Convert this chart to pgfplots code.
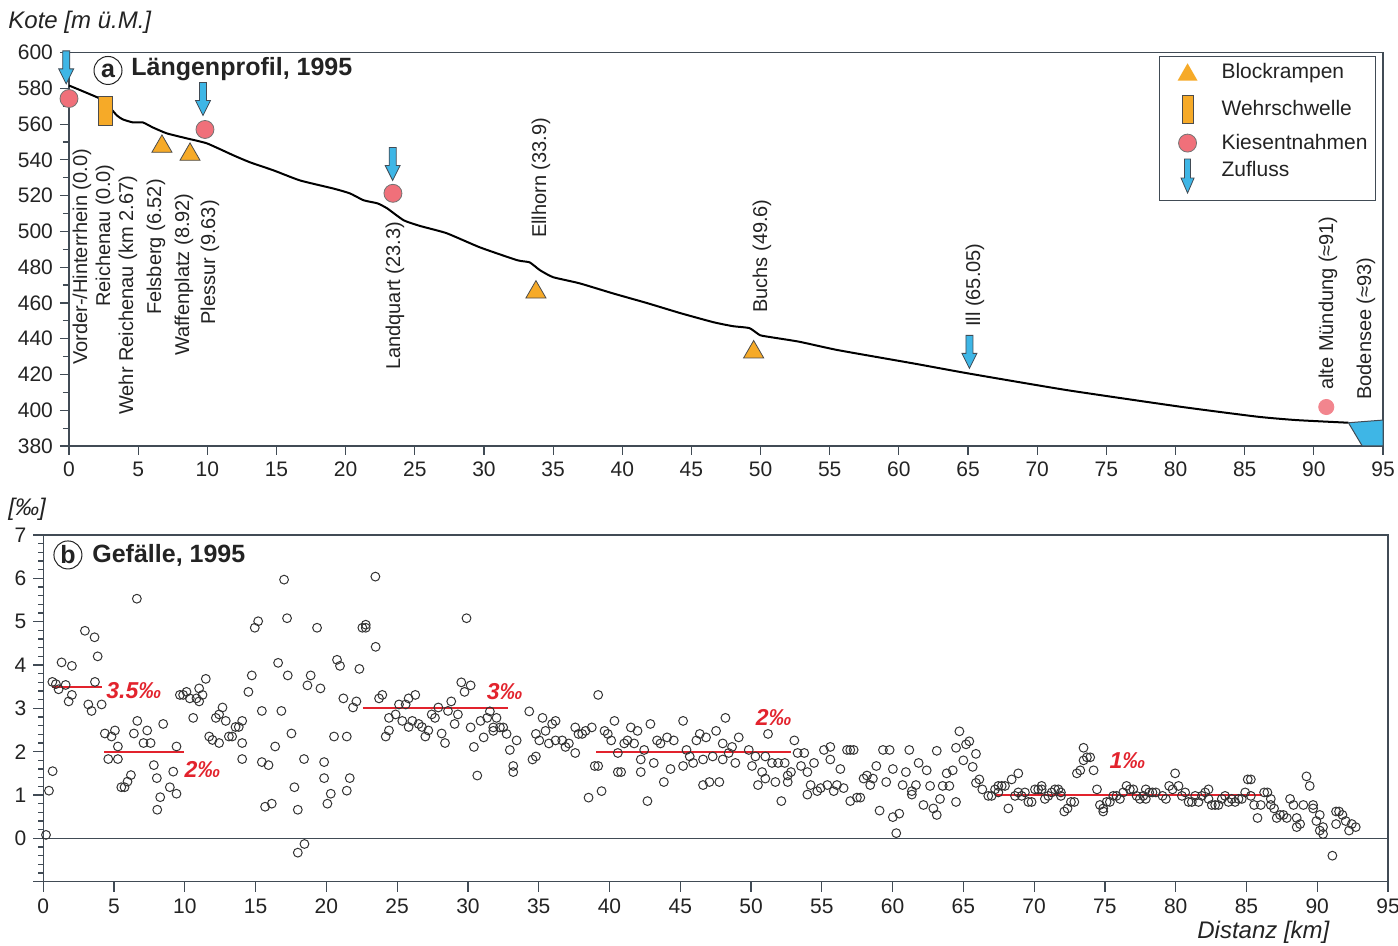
\documentclass[border=0pt]{standalone}
\usepackage{fontspec}
\setmainfont{Liberation Sans}
\usepackage{pgfplots}
\pgfplotsset{compat=1.18}

\definecolor{axisgray}{RGB}{65,75,85}
\definecolor{cOrange}{RGB}{246,170,40}
\definecolor{cPink}{RGB}{240,112,122}
\definecolor{cCyan}{RGB}{62,182,230}
\definecolor{cRed}{RGB}{226,35,45}
\definecolor{txt}{RGB}{35,35,35}

\pgfdeclareplotmark{wehr}{%
  \pgfpathrectangle{\pgfpoint{-3.5pt}{-7.25pt}}{\pgfpoint{7pt}{14.5pt}}%
  \pgfusepathqfillstroke}
\pgfdeclareplotmark{zufluss}{%
  \pgfpathmoveto{\pgfpoint{0pt}{0pt}}%
  \pgfpathlineto{\pgfpoint{3.75pt}{7.5pt}}%
  \pgfpathlineto{\pgfpoint{1.75pt}{7.5pt}}%
  \pgfpathlineto{\pgfpoint{1.75pt}{16.5pt}}%
  \pgfpathlineto{\pgfpoint{-1.75pt}{16.5pt}}%
  \pgfpathlineto{\pgfpoint{-1.75pt}{7.5pt}}%
  \pgfpathlineto{\pgfpoint{-3.75pt}{7.5pt}}%
  \pgfpathclose
  \pgfusepathqfillstroke}

\pgfplotsset{
  myaxis/.style={
    scale only axis, clip=false, enlargelimits=false,
    tick align=outside, xtick pos=bottom, ytick pos=left,
    axis line style={axisgray, line width=0.6pt},
    every tick/.style={axisgray, line width=0.6pt},
    tick label style={font=\fontsize{10.5}{12}\selectfont, text=txt},
    /pgf/number format/assume math mode=true,
    /pgf/number format/1000 sep={},
  },
}
\tikzset{
  rotlab/.style={rotate=90, anchor=west, inner sep=0pt, text=txt, font=\fontsize{10}{12}\selectfont},
  redlab/.style={text=cRed, font=\bfseries\itshape\fontsize{11.5}{13}\selectfont},
}

\begin{document}
\begin{tikzpicture}
\path[use as bounding box] (0,0) rectangle (699pt,473pt);

% ---------------- panel a ----------------
\begin{axis}[myaxis,
  at={(34.5pt,250pt)}, anchor=south west,
  width=657pt, height=196.7pt,
  xmin=0, xmax=95, ymin=380, ymax=600,
  xtick={0,5,...,95}, ytick={380,400,...,600},
  minor ytick={390,410,...,590},
  major tick length=4.5pt, minor tick length=3pt,
  legend cell align=left,
  legend style={at={(1,1)}, anchor=north east, xshift=-3.5pt, yshift=-1.5pt,
    draw=axisgray, line width=0.5pt, fill=white,
    inner xsep=4pt, inner ysep=2.75pt, row sep=0pt, column sep=7pt,
    font=\fontsize{10.5}{12}\selectfont, text=txt,
    nodes={inner sep=0pt, draw=none, fill=none}},
]
\addplot[only marks, mark=triangle*, mark size=5.8pt,
  mark options={fill=cOrange, draw=black!70, line width=0.4pt},
  legend image code/.code={%
    \path[draw=none, fill=none] (0pt,-9.25pt) rectangle (20pt,5.25pt);
    \fill[cOrange, draw=none, overlay] (5pt,-4.3pt) -- (15pt,-4.3pt) -- (10pt,4.4pt) -- cycle;}]
  coordinates {(6.72,547.5) (8.75,543) (33.76,466) (49.5,432.5)};
\addlegendentry{Blockrampen}
\addplot[only marks, mark=wehr,
  mark options={fill=cOrange, draw=black!70, line width=0.4pt},
  legend image code/.code={%
    \path[draw=none, fill=none] (0pt,-8.5pt) rectangle (20pt,9.25pt);
    \filldraw[fill=cOrange, draw=black!70, line width=0.4pt, overlay] (7.25pt,-7pt) rectangle (12.75pt,7pt);}]
  coordinates {(2.6,567.3)};
\addlegendentry{Wehrschwelle}
\addplot[only marks, mark=*, mark size=4.5pt,
  mark options={fill=cPink, draw=black!55, line width=0.4pt},
  legend image code/.code={%
    \path[draw=none, fill=none] (0pt,-6.75pt) rectangle (20pt,8.5pt);
    \filldraw[fill=cPink, draw=black!55, line width=0.4pt, overlay] (10pt,0pt) circle (4.5pt);}]
  coordinates {(0,574.3) (9.83,557) (23.42,521.3)};
\addlegendentry{Kiesentnahmen}
\addplot[only marks, mark=zufluss,
  mark options={fill=cCyan, draw=axisgray, line width=0.4pt},
  legend image code/.code={%
    \path[draw=none, fill=none] (0pt,-12.5pt) rectangle (20pt,6.75pt);
    \filldraw[fill=cCyan, draw=axisgray, line width=0.4pt, overlay]
      (10pt,-11.5pt) -- (13.25pt,-4pt) -- (11.5pt,-4pt) -- (11.5pt,5.5pt) -- (8.5pt,5.5pt) -- (8.5pt,-4pt) -- (6.75pt,-4pt) -- cycle;}]
  coordinates {(-0.2,582.5) (9.69,564.8) (23.4,528.5) (65.1,423.4)};
\addlegendentry{Zufluss}

% profile line
\addplot[forget plot, black, line width=1pt, smooth, tension=0.3] coordinates {
(0,581.6) (2.24,574.3) (2.7,571.5) (3.47,564.8) (3.9,562.6) (4.6,561) (5.35,560.9) (6.07,558.1)
(7.08,554.8) (8.53,552) (9.98,549.2) (11.9,542.5) (13.1,538.6) (14.8,534.1) (16.7,528.5)
(19.1,524) (20.3,521.3) (21.3,517.4) (22.3,515.7) (23,512.9) (24.2,506.2) (25.4,503)
(27.3,499) (29.7,491.1) (32.4,483.9) (33.3,482.7) (34.05,478.3) (35,474.4) (36.9,471)
(39.3,465.4) (41.8,459.9) (44.2,454.3) (46.6,449.2) (48,447) (49.2,445.9) (49.95,442)
(50.7,440.9) (52.8,438.3) (55.6,433.6) (61.1,426.1) (65.0,420.6) (72.1,411.3) (80.4,401.9)
(85.9,396.4) (88.7,394.5) (92.5,393.0)};
% Bodensee
\addplot[forget plot, fill=cCyan, draw=axisgray, line width=0.5pt]
  coordinates {(92.5,393.0) (95,394.5) (95,380) (93.5,380)} -- cycle;
% alte Muendung
\addplot[forget plot, only marks, mark=*, mark size=3.8pt,
  mark options={fill=cPink!85, draw=cPink!85}] coordinates {(90.9,401.8)};

\node[circle, draw=txt, line width=0.5pt, minimum size=14pt, inner sep=0pt,
  font=\bfseries\fontsize{12.5}{14}\selectfont, text=txt] at (axis cs:2.82,590) {a};
\node[anchor=west, inner sep=0pt, font=\bfseries\fontsize{12.5}{14}\selectfont, text=txt]
  at (axis cs:4.48,590.5) {Längenprofil, 1995};

\node[rotlab] at (axis cs:0.94,425.2) {Vorder-/Hinterrhein (0.0)};
\node[rotlab] at (axis cs:2.60,457.6) {Reichenau (0.0)};
\node[rotlab] at (axis cs:4.27,397.3) {Wehr Reichenau (km 2.67)};
\node[rotlab] at (axis cs:6.29,453.1) {Felsberg (6.52)};
\node[rotlab] at (axis cs:8.31,430.3) {Waffenplatz (8.92)};
\node[rotlab] at (axis cs:10.19,447.6) {Plessur (9.63)};
\node[rotlab] at (axis cs:23.57,422.4) {Landquart (23.3)};
\node[rotlab] at (axis cs:34.12,496.1) {Ellhorn (33.9)};
\node[rotlab] at (axis cs:50.10,454.3) {Buchs (49.6)};
\node[rotlab] at (axis cs:65.50,446.4) {Ill (65.05)};
\node[rotlab] at (axis cs:91.02,411.3) {alte Mündung (≈91)};
\node[rotlab] at (axis cs:93.77,405.7) {Bodensee (≈93)};
\end{axis}

% ---------------- panel b ----------------
\begin{axis}[myaxis,
  at={(21.65pt,32.15pt)}, anchor=south west,
  width=672.35pt, height=173.35pt,
  xmin=0, xmax=95, ymin=-1, ymax=7,
  xtick={0,5,...,95}, ytick={-1,0,...,7}, yticklabels={,0,1,2,3,4,5,6,7},
  minor y tick num=4,
  major tick length=5pt, minor tick length=2.5pt,
]
\draw[axisgray, line width=0.6pt] (axis cs:0,0) -- (axis cs:95,0);
\addplot[only marks, mark=o, mark size=2.2pt, mark options={draw=black!80, line width=0.5pt}]
coordinates {
(0.19,0.08)(0.4,1.1)(0.66,1.55)(0.64,3.61)(0.89,3.56)(1.08,3.44)(1.29,4.06)(1.58,3.54)(1.79,3.16)(2.02,3.98)
(2.02,3.31)(2.94,4.79)(3.18,3.09)(3.41,2.94)(3.62,4.64)(3.65,3.61)(3.84,4.2)(4.12,3.09)(4.35,2.42)(4.59,1.83)
(4.82,2.35)(5.06,2.49)(5.27,2.12)(5.27,1.83)(5.51,1.18)(5.74,1.18)(5.95,1.31)(6.19,1.46)(6.4,2.42)(6.61,5.53)
(6.64,2.71)(7.08,2.2)(7.34,2.49)(7.58,2.2)(7.81,1.69)(8.02,1.39)(8.05,0.66)(8.26,0.95)(8.47,2.64)(8.94,1.18)
(9.18,1.54)(9.41,2.12)(9.41,1.03)(9.65,3.31)(9.88,3.31)(10.12,3.38)(10.35,3.23)(10.59,2.78)(10.82,3.23)(11.01,3.46)
(11.01,3.16)(11.25,3.31)(11.48,3.68)(11.72,2.35)(11.95,2.27)(12.19,2.78)(12.42,2.2)(12.42,2.86)(12.66,3.02)(12.89,2.71)
(13.11,2.35)(13.34,2.35)(13.58,2.57)(13.81,2.57)(14.05,2.71)(14.05,2.2)(14.05,1.83)(14.49,3.38)(14.73,3.76)(14.94,4.86)
(15.18,5.01)(15.44,2.94)(15.44,1.76)(15.67,0.73)(15.91,1.69)(16.14,0.8)(16.38,2.12)(16.59,4.05)(16.82,2.94)(17.01,5.97)
(17.22,5.08)(17.27,3.76)(17.53,2.42)(17.74,1.18)(17.98,0.66)(17.98,-0.33)(18.42,1.83)(18.45,-0.13)(18.66,3.53)(18.89,3.76)
(19.34,4.86)(19.58,3.46)(19.84,1.76)(19.84,1.39)(20.07,0.8)(20.31,1.03)(20.54,2.35)(20.75,4.12)(20.96,3.98)(21.2,3.23)
(21.44,2.35)(21.44,1.1)(21.65,1.39)(21.88,3.02)(22.12,3.16)(22.33,3.91)(22.54,4.86)(22.78,4.93)(22.78,4.86)(23.46,6.04)
(23.48,4.42)(23.72,3.23)(23.95,3.31)(24.19,2.35)(24.42,2.49)(24.42,2.78)(24.89,2.86)(25.13,3.09)(25.36,2.71)(25.6,3.09)
(25.81,2.57)(25.81,3.23)(26.07,2.71)(26.28,3.31)(26.52,2.64)(26.75,2.57)(26.99,2.35)(27.2,2.49)(27.44,2.86)(27.67,2.78)
(27.91,3.02)(28.14,2.42)(28.38,2.2)(28.59,2.94)(28.82,3.16)(29.06,2.64)(29.29,2.86)(29.53,3.6)(29.76,3.38)(29.9,5.08)
(30.19,3.53)(30.19,2.56)(30.42,2.11)(30.66,1.45)(30.89,2.71)(31.11,2.33)(31.36,2.78)(31.55,2.93)(31.79,2.48)(31.79,2.56)
(32.02,2.78)(32.26,2.56)(32.49,2.56)(32.73,2.41)(32.96,2.04)(33.2,1.67)(33.2,1.53)(33.44,2.26)(34.33,2.93)(34.56,1.82)
(34.8,1.89)(34.8,2.41)(35.04,2.26)(35.27,2.78)(35.48,2.48)(35.72,2.19)(35.95,2.64)(36.19,2.71)(36.19,2.26)(36.66,2.26)
(36.89,2.11)(37.13,2.19)(37.58,1.97)(37.58,2.56)(37.81,2.41)(38.07,2.41)(38.31,2.48)(38.52,0.94)(38.75,2.56)(38.96,1.67)
(39.2,1.67)(39.2,3.31)(39.44,1.09)(39.65,2.48)(39.88,2.41)(40.12,2.26)(40.35,2.71)(40.59,1.97)(40.59,1.53)(40.82,1.53)
(41.04,2.19)(41.27,2.26)(41.51,2.56)(41.74,2.19)(41.98,2.48)(42.21,1.82)(42.21,1.53)(42.45,2.04)(42.68,0.86)(42.89,2.64)
(43.13,1.74)(43.36,2.26)(43.6,2.19)(43.84,1.3)(44.07,2.33)(44.31,1.6)(44.54,2.26)(45.2,2.71)(45.2,1.67)(45.44,2.04)
(45.67,1.89)(45.91,1.74)(46.14,2.26)(46.38,2.41)(46.61,1.23)(46.61,1.82)(46.82,2.33)(47.06,1.3)(47.29,1.89)(47.53,2.48)
(47.76,1.3)(48.0,2.19)(48.0,1.82)(48.19,2.78)(48.42,1.97)(48.66,2.11)(48.89,1.74)(49.13,2.33)(49.84,2.04)(50.07,1.67)
(50.31,1.89)(50.49,1.23)(50.78,1.53)(51.01,1.89)(51.01,1.38)(51.2,2.41)(51.48,1.74)(51.72,1.3)(51.91,1.74)(52.14,0.86)
(52.38,1.74)(52.59,1.3)(52.59,1.45)(52.82,1.53)(53.06,2.26)(53.29,1.97)(53.53,1.67)(53.76,1.97)(53.98,1.53)(53.98,1.01)
(54.21,1.23)(54.45,1.74)(54.68,1.09)(54.92,1.16)(55.15,2.04)(55.39,1.23)(55.6,2.11)(55.6,1.82)(55.84,1.09)(56.07,1.23)
(56.31,1.6)(56.54,1.16)(56.78,2.04)(57.01,2.04)(57.25,2.04)(57.01,0.86)(57.48,0.94)(57.72,0.94)(57.95,1.38)(58.19,1.45)
(58.42,1.23)(58.61,1.38)(58.85,1.67)(59.08,0.64)(59.32,2.04)(59.55,1.3)(59.79,2.04)(60.02,1.6)(60.02,0.49)(60.26,0.12)
(60.47,0.57)(60.71,1.23)(60.94,1.53)(61.18,2.04)(61.36,1.01)(61.36,1.09)(61.65,1.23)(61.84,1.74)
(62.18,0.77)(62.41,1.57)(62.65,1.21)(62.88,0.69)(63.12,0.54)(63.12,2.02)(63.35,0.91)(63.54,1.21)(63.82,1.5)(64.01,1.21)
(64.25,1.57)(64.48,0.84)(64.48,2.09)(64.72,2.47)(65.0,1.8)(65.19,2.17)(65.42,2.24)(65.66,1.65)(65.89,1.95)(65.89,1.28)
(66.13,1.36)(66.34,1.13)(66.76,0.98)(67.0,0.98)(67.24,1.13)(67.47,1.21)(67.47,1.06)(67.71,1.21)(67.94,1.21)(68.18,0.69)
(68.41,1.36)(68.65,0.98)(68.88,1.06)(68.88,1.5)(69.12,0.98)(69.35,1.06)(69.59,0.84)(69.82,0.84)(70.06,1.13)(70.29,1.13)
(70.53,1.21)(70.53,1.13)(70.76,0.91)(71.0,0.98)(71.24,1.06)(71.47,1.13)(71.71,1.13)(71.89,1.06)(71.89,0.98)(72.13,0.62)
(72.36,0.69)(72.6,0.84)(72.84,0.84)(73.02,1.5)(73.26,1.57)(73.49,1.8)(73.49,2.09)(73.73,1.87)(73.96,1.87)(74.2,1.57)
(74.44,1.13)(74.65,0.77)(74.88,0.69)(74.88,0.62)(75.12,0.84)(75.35,0.84)(75.59,0.98)(75.82,0.98)(76.06,0.91)(76.29,1.06)
(76.53,1.21)(76.76,1.13)(77.0,1.13)(77.24,0.98)(77.47,0.91)(77.71,0.98)(77.89,1.13)(77.89,0.91)(78.13,1.06)(78.36,1.06)
(78.6,1.06)(79.07,0.98)(79.31,0.91)(79.54,1.21)(79.78,1.13)(79.96,1.5)(80.2,1.21)(80.44,0.98)(80.67,1.06)(80.91,0.84)
(81.14,0.84)(81.38,0.98)(81.61,0.84)(81.85,0.98)(82.08,1.06)(82.32,1.13)(82.32,0.91)(82.55,0.77)(82.79,0.77)(83.02,0.77)
(83.26,0.91)(83.49,0.98)(83.73,0.84)(83.96,0.91)(84.2,0.84)(84.44,0.91)(84.67,0.91)(84.91,1.06)(85.09,1.36)(85.31,1.36)
(85.31,0.98)(85.54,0.77)(85.78,0.47)(86.01,0.77)(86.25,1.06)(86.48,1.06)(86.72,0.91)(86.72,0.77)(86.95,0.69)(87.14,0.47)
(87.38,0.54)(87.61,0.54)(87.85,0.47)(88.08,0.91)(88.32,0.77)(88.55,0.47)(88.55,0.26)(88.79,0.33)(89.02,0.77)(89.24,1.43)
(89.47,1.21)(89.71,0.77)(89.71,0.69)(89.94,0.4)(90.18,0.54)(90.18,0.18)(90.41,0.26)(90.41,0.1)(91.07,-0.4)(91.33,0.33)
(91.33,0.62)(91.54,0.62)(91.78,0.54)(92.01,0.4)(92.25,0.18)(92.44,0.33)(92.72,0.26)
};
\addplot[cRed, line width=1pt] coordinates {(0.6,3.5) (4.12,3.5)};
\addplot[cRed, line width=1pt] coordinates {(4.31,2) (9.96,2)};
\addplot[cRed, line width=1pt] coordinates {(22.56,3) (32.85,3)};
\addplot[cRed, line width=1pt] coordinates {(39.05,2) (52.8,2)};
\addplot[cRed, line width=1pt] coordinates {(67.2,1) (86.1,1)};

\node[redlab] at (axis cs:6.4,3.42) {3.5‰};
\node[redlab] at (axis cs:11.25,1.59) {2‰};
\node[redlab] at (axis cs:32.6,3.38) {3‰};
\node[redlab] at (axis cs:51.6,2.79) {2‰};
\node[redlab] at (axis cs:76.6,1.79) {1‰};

\node[circle, draw=txt, line width=0.5pt, minimum size=14pt, inner sep=0pt,
  font=\bfseries\fontsize{12.5}{14}\selectfont, text=txt] at (axis cs:1.74,6.54) {b};
\node[anchor=west, inner sep=0pt, font=\bfseries\fontsize{12.5}{14}\selectfont, text=txt]
  at (axis cs:3.44,6.54) {Gefälle, 1995};
\end{axis}

\node[anchor=base west, inner sep=0pt, text=txt, font=\itshape\fontsize{12}{14}\selectfont] at (4pt,458.5pt) {Kote [m ü.M.]};
\node[anchor=base west, inner sep=0pt, text=txt, font=\itshape\fontsize{12}{14}\selectfont] at (4pt,215pt) {[‰]};
\node[anchor=base west, inner sep=0pt, text=txt, font=\itshape\fontsize{12}{14}\selectfont] at (598.5pt,3.5pt) {Distanz [km]};
\end{tikzpicture}
\end{document}
